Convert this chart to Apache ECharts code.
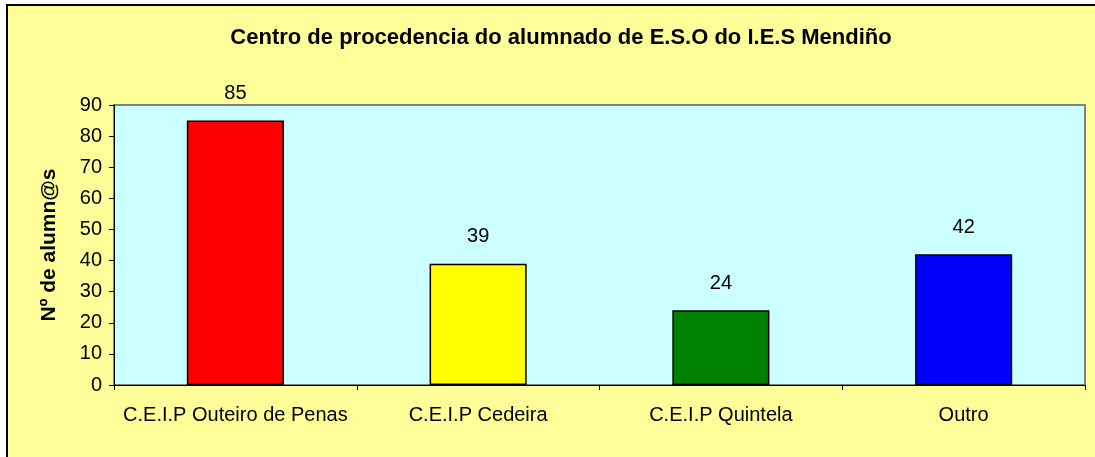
<!DOCTYPE html>
<html lang="en">
<head>
    <meta charset="UTF-8">
    <title>Centro de procedencia do alumnado</title>
    <script src="https://cdn.jsdelivr.net/npm/echarts@6.0.0/dist/echarts.min.js"></script>
    <style>
        html, body { margin: 0; padding: 0; background: #fff; }
        #chart { width: 1095px; height: 457px; }
    </style>
</head>
<body>
    <div id="chart"></div>
    <script>
        // datos
        var centros = ['C.E.I.P Outeiro de Penas', 'C.E.I.P Cedeira', 'C.E.I.P Quintela', 'Outro'];
        var alumnos = [85, 39, 24, 42];
        var cores = ['#FF0000', '#FFFF00', '#008000', '#0000FF'];

        var myChart = echarts.init(document.getElementById('chart'));
        var fonte = '"Liberation Sans", Arial, sans-serif';

        myChart.setOption({
            backgroundColor: '#fff',
            textStyle: { fontFamily: fonte },
            graphic: [{
                type: 'rect',
                z: -10,
                shape: { x: 7, y: 5, width: 1200, height: 600 },
                style: { fill: '#FFFF99', stroke: '#000', lineWidth: 2 },
                silent: true
            }],
            title: {
                text: 'Centro de procedencia do alumnado de E.S.O do I.E.S Mendiño',
                left: 556,
                textAlign: 'center',
                top: 22,
                textStyle: { fontSize: 22, fontWeight: 'bold', color: '#000', fontFamily: fonte }
            },
            grid: {
                left: 114, right: 10, top: 105, bottom: 72,
                show: true,
                backgroundColor: '#CCFFFF',
                borderColor: '#808080',
                borderWidth: 2
            },
            xAxis: {
                type: 'category',
                data: centros,
                axisLine: { lineStyle: { color: '#000', width: 1 } },
                axisTick: { show: true, length: 5, lineStyle: { color: '#000' } },
                axisLabel: { color: '#000', fontSize: 20, margin: 20, interval: 0, fontFamily: fonte }
            },
            yAxis: {
                type: 'value',
                min: 0, max: 90, interval: 10,
                name: 'Nº de alumn@s',
                nameLocation: 'middle',
                nameGap: 54,
                nameTextStyle: { fontSize: 21, fontWeight: 'bold', color: '#000', fontFamily: fonte },
                axisLine: { show: true, lineStyle: { color: '#000', width: 1 } },
                axisTick: { show: true, length: 5, lineStyle: { color: '#000' } },
                axisLabel: { color: '#000', fontSize: 20, margin: 12, fontFamily: fonte },
                splitLine: { show: false }
            },
            series: [{
                type: 'bar',
                data: alumnos.map(function (v, i) {
                    return { value: v, itemStyle: { color: cores[i] } };
                }),
                barWidth: '40%',
                itemStyle: { borderColor: '#000', borderWidth: 1.5 },
                label: {
                    show: true,
                    position: 'top',
                    distance: 17,
                    color: '#000',
                    fontSize: 20,
                    fontFamily: fonte
                },
                animation: false
            }]
        });
    </script>
</body>
</html>
